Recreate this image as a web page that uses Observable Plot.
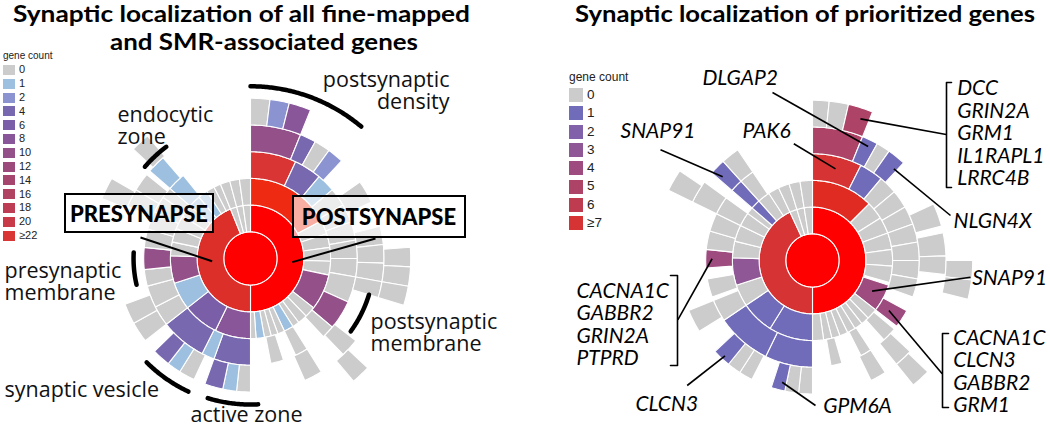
<!DOCTYPE html>
<html><head><meta charset="utf-8">
<script src="https://cdn.jsdelivr.net/npm/d3@7"></script>
<script src="https://cdn.jsdelivr.net/npm/@observablehq/plot@0.6"></script>
<style>
body{margin:0;background:#fff;}
#wrap{position:relative;width:1050px;height:429px;overflow:hidden;font-family:Lato,sans-serif;background:#fff;}
.title{position:absolute;font-family:Lato,sans-serif;font-weight:700;font-size:23px;line-height:23px;color:#000;white-space:nowrap;transform-origin:left top;}
.lg{position:absolute;font-family:"Liberation Sans",Arial,sans-serif;color:#222;white-space:nowrap;}
.sw{position:absolute;}
.box{position:absolute;border:2.5px solid #000;background:rgba(255,255,255,0.62);font-family:Lato,sans-serif;font-weight:900;font-size:22px;display:flex;align-items:center;justify-content:center;box-sizing:border-box;z-index:5;}
.chart{position:absolute;top:0;}
</style></head><body><div id="wrap"></div>
<script>
// ---------------- DATA ----------------
// left chart: all fine-mapped and SMR-associated genes
// each ring: [startAngle, endAngle, geneCount] (angles clockwise from top)
const leftCenter = 300;
const leftRing1 = [[0,180,200],[180,338,60],[338,345,0],[345,352,0],[352,360,0]];
const leftRing2 = [[0,62,90],[62,72,0],[72,82,0],[82,92,0],[92,102,0],[102,128,10],[128,136,0],[136,143,0],[143,148,0],[148,155,1],[155,160,0],[160,165,0],[165,170,0],[170,176,1],[176,180,0],
  [180,206,8],[206,232,7],[232,252,1],[252,272,10],[272,282,0],[282,292,0],[292,302,0],[302,311,0],[311,320,1],[320,327,1],[327,333,0],[333,338,0],[338,345,0],[345,352,0],[352,360,0]];
const leftRing3 = [[0,25,30],[25,40,4],[40,50,1],[50,60,0],[60,70,0],[70,80,0],[80,90,0],[90,100,0],[100,114,0],[114,130,10],[130,137,0],[148,155,0],[162,169,0],
  [180,200,4],[200,207,1],[207,232,4],[232,243,0],[243,255,0],[255,264,0],[264,276,10],[276,286,0],[286,296,0],[296,305,0],[305,311,0],[311,321,1]];
const leftRing4 = [[0,22,10],[22,29,4],[29,36,0],[36,43,2],[55,65,0],[76,84,0],[84,92,0],[92,100,0],[100,107,0],[128,136,0],[148,156,0],
  [180,186,0],[186,192,1],[192,200,4],[205,212,0],[212,218,1],[218,226,4],[232,241,0],[241,250,0],[293,301,0],[301,309,0],[311,319,1]];
const leftRing5 = [[0,7,0],[7,14,2],[14,22,8],[86,93,0],[93,100,0],[100,107,0],[133,140,0],[292,300,0],[313,320,0]];
const leftThresholds = [1,2,4,6,8,10,12,14,16,18,20,22,40,70,150];
const leftColors = ["#cccccc","#9dbfe0","#8b93d0","#7868b0","#7b5ea8","#895699","#945089","#9c4a7c","#a6466e","#b04262","#bd3d55","#c83a47","#d93535","#dc2f29","#ef2a12","#ff0000"];
const leftLegendLabels = ["0","1","2","4","6","8","10","12","14","16","18","20","≥22"];

// right chart: prioritized genes
const rightCenter = 60;
const rightRing1 = [[0,180,40],[180,335,12],[335,343,0],[343,351,0],[351,360,0]];
const rightRing2 = [[0,45,20],[45,58,0],[58,70,0],[70,82,0],[82,94,0],[94,106,0],[108,128,4],[128,136,0],[136,142,0],[142,148,0],[148,154,0],[154,160,0],[160,166,0],[166,172,0],[172,180,0],
  [180,212,1],[212,236,1],[236,252,0],[252,272,3],[272,284,0],[284,296,0],[296,306,0],[306,311,0],[311,318,1],[318,327,0],[327,335,0],[335,343,0],[343,351,0],[351,360,0]];
const rightRing3 = [[0,27,9],[27,40,1],[40,50,0],[50,60,0],[60,70,0],[70,80,0],[80,90,0],[90,100,0],[100,110,0],[118,128,4],[130,138,0],[147,153,0],[164,170,0],
  [180,206,1],[206,236,1],[236,248,0],[250,260,0],[266,276,4],[276,286,0],[286,296,0],[296,306,0],[311,318,1],[318,326,0]];
const rightRing4 = [[0,22,5],[22,29,1],[29,35,0],[35,43,1],[65,75,0],[78,88,0],[88,96,0],[133,141,0],[147,154,0],
  [180,186,0],[186,192,0],[192,198,1],[207,213,0],[213,219,0],[219,227,1],[238,248,0],[296,306,0],[311,318,1],[318,326,0]];
const rightRing5 = [[0,6,0],[6,13,0],[13,22,5],[90,97,0],[97,104,0],[134,141,0],[296,304,0]];
const rightThresholds = [1,2,3,4,5,6,7,15,30];
const rightColors = ["#cccccc","#716cb9","#8161aa","#8f5795","#9e4c80","#ad4468","#bf3b4f","#d63434","#e02b22","#ff0000"];
const rightLegendLabels = ["0","1","2","3","4","5","6","≥7"];

// annotations
const leftLabels = [
  {text:"postsynaptic\ndensity", dx:199, dy:-187, anchor:"end"},
  {text:"endocytic\nzone", dx:-133, dy:-152, anchor:"start"},
  {text:"presynaptic\nmembrane", dx:-246, dy:4, anchor:"start"},
  {text:"synaptic vesicle", dx:-246, dy:123, anchor:"start"},
  {text:"active zone", dx:-60, dy:148, anchor:"start"},
  {text:"postsynaptic\nmembrane", dx:120, dy:55, anchor:"start"}
];
const leftArcs = [{a0:0,a1:40,r:6.45},{a0:311,a1:323,r:5.24},{a0:257,a1:273,r:4.38},{a0:205,a1:225,r:5.5},{a0:177,a1:197,r:5.47},{a0:107,a1:126,r:4.64}];
const leftLeaders = [{from:[-110,-21], angle:266, r:1.44},{from:[125,-20], angle:95, r:1.57}];

const rightLabels = [
  {text:"DLGAP2", dx:-110, dy:-182.5},
  {text:"SNAP91", dx:-192, dy:-129.5},
  {text:"PAK6", dx:-70, dy:-129.5},
  {text:"DCC\nGRIN2A\nGRM1\nIL1RAPL1\nLRRC4B", dx:144.7, dy:-127.5},
  {text:"NLGN4X", dx:141, dy:-40},
  {text:"SNAP91", dx:159.7, dy:17},
  {text:"CACNA1C\nCLCN3\nGABBR2\nGRM1", dx:140.7, dy:110.8},
  {text:"GPM6A", dx:10.7, dy:145},
  {text:"CLCN3", dx:-177, dy:143.3},
  {text:"CACNA1C\nGABBR2\nGRIN2A\nPTPRD", dx:-236, dy:63.8}
];
const rightLeaders = [
  {from:[-40,-168], angle:26, r:4.75},
  {from:[-152,-110.7], angle:313, r:4.6},
  {from:[-18.7,-116.7], angle:14.1, r:3.54},
  {from:[133.7,-126], angle:18.7, r:5.6},
  {from:[138,-45], angle:41.6, r:4.59},
  {from:[158,16.7], angle:117.2, r:2.51},
  {from:[129.7,113.3], angle:123.2, r:3.42},
  {from:[3,145], angle:194, r:4.7},
  {from:[-125.3,125], angle:222.5, r:4.85},
  {from:[-134.7,59.3], angle:271, r:3.76}
];
const rightBrackets = [
  [[139,-178],[134,-178],[134,-73],[139,-73]],
  [[136,73],[130,73],[130,147],[136,147]],
  [[-142,15],[-135,15],[-135,105],[-142,105]]
];

// ---------------- HELPERS ----------------
const UNIT = 26.7; // pixels per ring
const geoPt = (theta, r) => [180 - theta, 90 - 10 * r];
const offPt = ([dx, dy]) => geoPt(Math.atan2(dx, -dy) * 180 / Math.PI, Math.hypot(dx, dy) / UNIT);

function sectorGeom(ring, a0, a1) {
  let pts;
  if (ring === 0) pts = d3.range(0, 361, 3).map(t => geoPt(t, 1));
  else {
    const n = Math.max(2, Math.ceil(a1 - a0));
    const outer = d3.range(n + 1).map(i => geoPt(a0 + (a1 - a0) * i / n, ring + 1));
    const inner = d3.range(n + 1).map(i => geoPt(a1 - (a1 - a0) * i / n, ring));
    pts = outer.concat(inner, [outer[0]]);
  }
  let g = {type: "Polygon", coordinates: [pts]};
  if (d3.geoArea(g) > 2 * Math.PI) g = {type: "Polygon", coordinates: [pts.slice().reverse()]};
  return g;
}
function buildCells(center, rings) {
  const cells = [{ring: 0, a0: 0, a1: 360, count: center}];
  rings.forEach((arr, i) => arr.forEach(([a0, a1, count]) => cells.push({ring: i + 1, a0, a1, count})));
  cells.forEach(c => c.geom = sectorGeom(c.ring, c.a0, c.a1));
  return cells;
}
function arcGeom(d) {
  const n = Math.ceil(d.a1 - d.a0) * 2;
  return {type: "LineString", coordinates: d3.range(n + 1).map(i => geoPt(d.a0 + (d.a1 - d.a0) * i / n, d.r))};
}

function sunburst({cells, thresholds, colors, cx, cy, width, height, marks}) {
  const R = 6 * UNIT;
  return Plot.plot({
    width, height,
    marginLeft: cx - R, marginRight: width - cx - R, marginTop: cy - R, marginBottom: height - cy - R,
    projection: {type: "azimuthal-equidistant", rotate: [0, -90], domain: d3.geoCircle().center([0, 90]).radius(60)(), inset: 0, clip: false},
    color: {type: "threshold", domain: thresholds, range: colors},
    style: {background: "transparent", overflow: "visible"},
    marks: [
      Plot.geo(cells, {geometry: d => d.geom, fill: d => d.count, stroke: "white", strokeWidth: 1.1}),
      ...marks
    ]
  });
}

const wrap = document.getElementById("wrap");

// ---------------- LEFT ----------------
const leftCells = buildCells(leftCenter, [leftRing1, leftRing2, leftRing3, leftRing4, leftRing5]);
const labelFont = "'Open Sans', sans-serif";
const left = sunburst({
  cells: leftCells, thresholds: leftThresholds, colors: leftColors, cx: 250, cy: 258, width: 525, height: 429,
  marks: [
    Plot.geo(leftArcs, {geometry: arcGeom, stroke: "black", strokeWidth: 4.5, fill: "none"}),
    Plot.link(leftLeaders, {x1: d => offPt(d.from)[0], y1: d => offPt(d.from)[1], x2: d => geoPt(d.angle, d.r)[0], y2: d => geoPt(d.angle, d.r)[1], curve: "linear", stroke: "black", strokeWidth: 2}),
    Plot.text(leftLabels.filter(d => d.anchor === "start"), {x: d => offPt([d.dx, d.dy])[0], y: d => offPt([d.dx, d.dy])[1], text: "text", textAnchor: "start", lineAnchor: "top", lineHeight: 1.02, fontSize: 21.5, fontFamily: labelFont, fill: "#111"}),
    Plot.text(leftLabels.filter(d => d.anchor === "end"), {x: d => offPt([d.dx, d.dy])[0], y: d => offPt([d.dx, d.dy])[1], text: "text", textAnchor: "end", lineAnchor: "top", lineHeight: 1.02, fontSize: 21.5, fontFamily: labelFont, fill: "#111"})
  ]
});
left.classList.add("chart"); left.style.left = "0px";
wrap.appendChild(left);

// ---------------- RIGHT ----------------
const rightCells = buildCells(rightCenter, [rightRing1, rightRing2, rightRing3, rightRing4, rightRing5]);
const bracketPts = rightBrackets.flatMap((b, i) => b.map(p => ({id: i, p: offPt(p)})));
const right = sunburst({
  cells: rightCells, thresholds: rightThresholds, colors: rightColors, cx: 287, cy: 260, width: 525, height: 429,
  marks: [
    Plot.line(bracketPts, {x: d => d.p[0], y: d => d.p[1], z: "id", curve: "linear", stroke: "black", strokeWidth: 1.6}),
    Plot.link(rightLeaders, {x1: d => offPt(d.from)[0], y1: d => offPt(d.from)[1], x2: d => geoPt(d.angle, d.r)[0], y2: d => geoPt(d.angle, d.r)[1], curve: "linear", stroke: "black", strokeWidth: 1.6}),
    Plot.text(rightLabels, {x: d => offPt([d.dx, d.dy])[0], y: d => offPt([d.dx, d.dy])[1], text: "text", textAnchor: "start", lineAnchor: "middle", lineHeight: 1.07, fontSize: 21, fontStyle: "italic", fontFamily: "Lato, sans-serif", fill: "#000"})
  ]
});
right.classList.add("chart"); right.style.left = "525px";
wrap.appendChild(right);

// ---------------- TITLES ----------------
function addTitle(text, x, y, w) {
  const el = document.createElement("div");
  el.className = "title"; el.textContent = text;
  el.style.left = x + "px"; el.style.top = y + "px";
  wrap.appendChild(el);
  const cw = el.getBoundingClientRect().width;
  el.style.transform = `scaleX(${w / cw})`;
}
addTitle("Synaptic localization of all fine-mapped", 13, 2, 457);
addTitle("and SMR-associated genes", 110, 30, 308);
addTitle("Synaptic localization of prioritized genes", 575, 2, 460);

// ---------------- BOXES ----------------
function addBox(text, x, y, w, h) {
  const el = document.createElement("div");
  el.className = "box"; el.textContent = text;
  Object.assign(el.style, {left: x + "px", top: y + "px", width: w + "px", height: h + "px"});
  wrap.appendChild(el);
}
addBox("PRESYNAPSE", 64, 193, 150, 40);
addBox("POSTSYNAPSE", 292, 195, 174, 43);

// ---------------- LEGENDS ----------------
function addLegend(labels, colors, x, y, sw, sh, step, fs, titleFs, titleY) {
  const t = document.createElement("div");
  t.className = "lg"; t.textContent = "gene count";
  Object.assign(t.style, {left: x + "px", top: titleY + "px", fontSize: titleFs + "px"});
  wrap.appendChild(t);
  labels.forEach((lab, i) => {
    const s = document.createElement("div");
    s.className = "sw";
    Object.assign(s.style, {left: x + "px", top: (y + i * step) + "px", width: sw + "px", height: sh + "px", background: colors[i]});
    wrap.appendChild(s);
    const l = document.createElement("div");
    l.className = "lg"; l.textContent = lab;
    Object.assign(l.style, {left: (x + sw + 4) + "px", top: (y + i * step + sh / 2 - fs * 0.6) + "px", fontSize: fs + "px", lineHeight: (fs * 1.2) + "px"});
    wrap.appendChild(l);
  });
}
addLegend(leftLegendLabels, leftColors, 3, 65, 12, 10, 13.8, 11, 10, 50);
addLegend(rightLegendLabels, rightColors, 569, 88, 14, 14, 18.3, 13.5, 12, 70);
</script></body></html>
